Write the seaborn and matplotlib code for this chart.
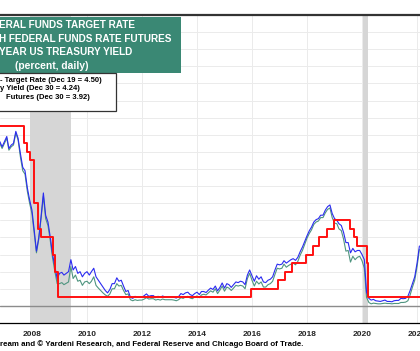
import pandas as pd
import numpy as np
import matplotlib
matplotlib.use('Agg')
import matplotlib.pyplot as plt
import matplotlib.dates as mdates
from matplotlib.patches import Rectangle
import seaborn as sns

sns.set_style('white')
plt.rcParams['font.family'] = ['Liberation Sans', 'DejaVu Sans']

# ---------------------------------------------------------
# Data (monthly)
# ---------------------------------------------------------
months = pd.date_range('2006-11-01', '2022-02-01', freq='MS')

yield_2y = [
    4.80, 4.65,
    4.80, 4.95, 4.60, 4.70, 4.75, 5.10, 4.90, 4.45, 4.05, 3.95, 3.45, 3.10,
    2.80, 2.20, 1.60, 2.00, 2.60, 3.30, 2.65, 2.45, 2.00, 1.50, 1.15, 0.80,
    0.95, 0.98, 0.90, 0.95, 1.00, 1.35, 1.05, 1.15, 0.95, 1.00, 0.85, 0.95,
    1.00, 0.90, 1.00, 1.10, 0.85, 0.75, 0.65, 0.55, 0.45, 0.38, 0.48, 0.65,
    0.65, 0.82, 0.72, 0.75, 0.58, 0.42, 0.45, 0.25, 0.22, 0.28, 0.25, 0.25,
    0.25, 0.30, 0.35, 0.28, 0.30, 0.30, 0.24, 0.28, 0.25, 0.29, 0.26, 0.26,
    0.27, 0.26, 0.25, 0.23, 0.27, 0.36, 0.33, 0.38, 0.40, 0.33, 0.30, 0.36,
    0.40, 0.33, 0.42, 0.42, 0.39, 0.46, 0.52, 0.48, 0.58, 0.44, 0.54, 0.67,
    0.52, 0.65, 0.62, 0.54, 0.62, 0.70, 0.68, 0.72, 0.70, 0.62, 0.90, 1.05,
    0.88, 0.72, 0.88, 0.78, 0.85, 0.70, 0.68, 0.75, 0.78, 0.85, 1.05, 1.22,
    1.20, 1.22, 1.32, 1.25, 1.30, 1.35, 1.38, 1.33, 1.42, 1.58, 1.72, 1.88,
    2.05, 2.20, 2.30, 2.45, 2.52, 2.55, 2.65, 2.65, 2.80, 2.90, 2.95, 2.70,
    2.55, 2.50, 2.40, 2.35, 2.15, 1.85, 1.85, 1.55, 1.68, 1.58, 1.62, 1.62,
    1.50, 1.35, 0.40, 0.22, 0.17, 0.19, 0.15, 0.14, 0.13, 0.15, 0.17, 0.13,
    0.13, 0.12, 0.15, 0.16, 0.16, 0.22, 0.21, 0.22, 0.28, 0.45, 0.65, 0.85,
    1.25, 1.75,
]

futures = [
    4.75, 4.60,
    4.75, 4.90, 4.55, 4.65, 4.70, 5.05, 4.85, 4.35, 3.95, 3.85, 3.35, 3.00,
    2.70, 2.10, 1.55, 1.95, 2.55, 3.20, 2.55, 2.35, 1.90, 1.40, 1.00, 0.65,
    0.65, 0.68, 0.62, 0.66, 0.70, 1.15, 0.80, 0.90, 0.72, 0.75, 0.60, 0.70,
    0.72, 0.65, 0.72, 0.85, 0.60, 0.52, 0.45, 0.38, 0.32, 0.28, 0.35, 0.50,
    0.50, 0.65, 0.58, 0.60, 0.45, 0.33, 0.35, 0.18, 0.15, 0.18, 0.16, 0.17,
    0.17, 0.20, 0.24, 0.20, 0.21, 0.21, 0.17, 0.19, 0.17, 0.20, 0.18, 0.18,
    0.18, 0.18, 0.17, 0.15, 0.18, 0.24, 0.22, 0.26, 0.28, 0.23, 0.21, 0.26,
    0.29, 0.24, 0.32, 0.34, 0.32, 0.38, 0.44, 0.40, 0.50, 0.36, 0.46, 0.58,
    0.43, 0.55, 0.52, 0.45, 0.52, 0.60, 0.58, 0.60, 0.58, 0.50, 0.80, 0.95,
    0.75, 0.58, 0.72, 0.64, 0.70, 0.55, 0.55, 0.62, 0.65, 0.72, 0.92, 1.10,
    1.08, 1.10, 1.22, 1.13, 1.18, 1.22, 1.25, 1.20, 1.30, 1.48, 1.62, 1.80,
    1.98, 2.12, 2.22, 2.38, 2.45, 2.48, 2.58, 2.58, 2.72, 2.82, 2.86, 2.58,
    2.42, 2.40, 2.25, 2.20, 1.95, 1.60, 1.62, 1.28, 1.45, 1.35, 1.42, 1.45,
    1.32, 1.10, 0.25, 0.10, 0.06, 0.08, 0.07, 0.06, 0.06, 0.07, 0.08, 0.07,
    0.07, 0.06, 0.07, 0.07, 0.07, 0.10, 0.10, 0.11, 0.15, 0.32, 0.55, 0.75,
    1.15, 1.65,
]

# Fed funds target (upper bound) change dates
target_dates = ['2006-06-29', '2007-09-18', '2007-10-31', '2007-12-11', '2008-01-22',
                '2008-01-30', '2008-03-18', '2008-04-30', '2008-10-08', '2008-10-29',
                '2008-12-16', '2015-12-16', '2016-12-14', '2017-03-15', '2017-06-14',
                '2017-12-13', '2018-03-21', '2018-06-13', '2018-09-26', '2018-12-19',
                '2019-07-31', '2019-09-18', '2019-10-30', '2020-03-03', '2020-03-15',
                '2022-03-16']
target_rate = [5.25, 4.75, 4.50, 4.25, 3.50, 3.00, 2.25, 2.00, 1.50, 1.00,
               0.25, 0.50, 0.75, 1.00, 1.25, 1.50, 1.75, 2.00, 2.25, 2.50,
               2.25, 2.00, 1.75, 1.25, 0.25, 0.50]

recessions = [('2007-12-01', '2009-06-01'), ('2020-01-20', '2020-03-25')]

title_lines = ['ERAL FUNDS TARGET RATE', 'H FEDERAL FUNDS RATE FUTURES',
               'YEAR US TREASURY YIELD', '(percent, daily)']
legend_lines = ['- Target Rate (Dec 19 = 4.50)', 'y Yield (Dec 30 = 4.24)',
                'Futures (Dec 30 = 3.92)']
footer = 'ream and \u00a9 Yardeni Research, and Federal Reserve and Chicago Board of Trade.'

df = pd.DataFrame({'date': months, 'yield': yield_2y, 'futures': futures})
tgt = pd.DataFrame({'date': pd.to_datetime(target_dates + ['2022-06-01']),
                    'rate': target_rate + [target_rate[-1]]})

# ---------------------------------------------------------
# Figure
# ---------------------------------------------------------
W, H = 420, 351
fig = plt.figure(figsize=(W / 100, H / 100), dpi=100)
ax = fig.add_axes([0, (H - 323) / H, 1, (323 - 15) / H])

for start, end in recessions:
    ax.axvspan(pd.Timestamp(start), pd.Timestamp(end), color='#d6d6d6', lw=0, zorder=1)

for yv in np.arange(-0.5, 8.51, 0.5):
    ax.axhline(yv, color='#ebebeb', lw=0.7, zorder=0)
ax.axhline(0, color='#8c8c8c', lw=1.0, zorder=2)

sns.lineplot(data=df, x='date', y='futures', color='#4f9580', lw=0.8, ax=ax, zorder=3)
sns.lineplot(data=df, x='date', y='yield', color='#2b2bf0', lw=0.8, ax=ax, zorder=4)
sns.lineplot(data=tgt, x='date', y='rate', color='#ff1010', lw=1.4,
             drawstyle='steps-post', ax=ax, zorder=5)

ax.set_xlim(pd.Timestamp('2006-11-03'), pd.Timestamp('2022-02-09'))
ax.set_ylim(-0.5, 8.5)
ax.set_xlabel('')
ax.set_ylabel('')
ax.set_yticks([])

ax.xaxis.set_major_locator(mdates.YearLocator(2))
ax.xaxis.set_major_formatter(mdates.DateFormatter('%Y'))
ax.xaxis.set_minor_locator(mdates.MonthLocator())
ax.xaxis.grid(True, which='major', color='#ebebeb', lw=0.7)
ax.set_axisbelow(True)
ax.tick_params(axis='x', which='major', length=3.5, width=0.8, color='black',
               labelsize=6, pad=2)
ax.tick_params(axis='x', which='minor', length=2, width=0.5, color='black')
for lab in ax.get_xticklabels():
    lab.set_fontweight('bold')

for side in ['left', 'right']:
    ax.spines[side].set_visible(False)
ax.spines['top'].set_color('#333333')
ax.spines['top'].set_linewidth(1.6)
ax.spines['bottom'].set_color('black')
ax.spines['bottom'].set_linewidth(0.9)

# title box
fig.add_artist(Rectangle((0, 1 - 73 / H), 181 / W, 56 / H, transform=fig.transFigure,
                         facecolor='#3a8874', edgecolor='none', zorder=10))
for i, line in enumerate(title_lines):
    yc = 25 + i * 13.6
    if i == 3:
        fig.text(52 / W, 1 - yc / H, line, ha='center', va='center', color='white',
                 fontsize=7.4, fontweight='bold', zorder=11)
    else:
        fig.text(-1 / W, 1 - yc / H, line, ha='left', va='center', color='white',
                 fontsize=7.2, fontweight='bold', zorder=11)

# legend box
fig.add_artist(Rectangle((-2 / W, 1 - 111 / H), 118 / W, 38 / H, transform=fig.transFigure,
                         facecolor='white', edgecolor='#333333', lw=0.9, zorder=10))
legend_x = [0, 0, 6]
for i, line in enumerate(legend_lines):
    yc = 80 + i * 8.8
    fig.text(legend_x[i] / W, 1 - yc / H, line, ha='left', va='center', color='black',
             fontsize=5.5, fontweight='bold', zorder=11)

fig.text(0, 1 - 344 / H, footer, ha='left', va='center', color='black',
         fontsize=5.65, fontweight='bold')

fig.savefig('out.png', dpi=100)
plt.close(fig)
